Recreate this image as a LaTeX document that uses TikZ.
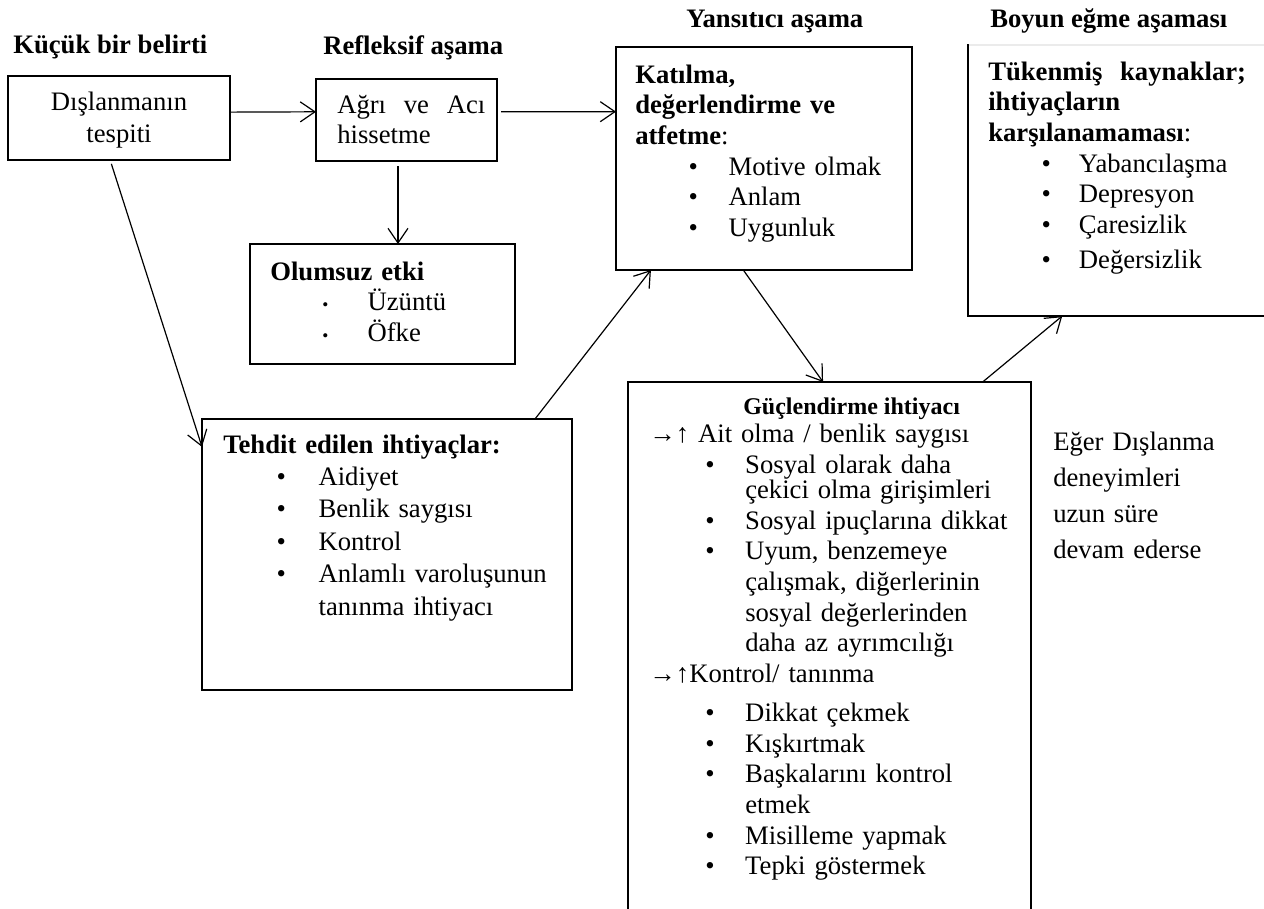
\documentclass[tikz,border=0pt]{standalone}
\usepackage{fontspec}
\setmainfont{Liberation Serif}
\usetikzlibrary{arrows.meta,fit,calc}

\newcommand{\blt}[2]{\hspace*{#1}\makebox[#2][l]{•}}
\newcommand{\sblt}[2]{\hspace*{#1}\makebox[#2][l]{\fontsize{13}{13}\selectfont •}}

\begin{document}
\begin{tikzpicture}[x=0.75pt,y=0.75pt,yscale=-1,xscale=1,
    box/.style={draw, line width=0.9pt, inner sep=0pt, outer sep=0pt},
    txt/.style={inner sep=0pt, align=left, font=\fontsize{20}{23}\selectfont},
    head/.style={txt, font=\fontsize{20}{23}\selectfont\bfseries},
    arr/.style={draw, line width=0.9pt, -{Straight Barb[length=11pt,width=15pt]}}]
\useasboundingbox (0,0) rectangle (1264,908);

%Shape: Rectangle
\node[box, fit={(8,76) (230,160)}] (tespit) {};
%Shape: Rectangle
\node[box, fit={(316,79) (497,161)}] (agri) {};
%Shape: Rectangle
\node[box, fit={(616,47) (912,270)}] (katilma) {};
%Shape: Rectangle
\node[box, fit={(968,45) (1272,316)}] (boyun) {};
\draw[black!8, line width=1.3pt] ([xshift=0.5pt]boyun.north west) -- (boyun.north east);
%Shape: Rectangle
\node[box, fit={(250,244) (515,364)}] (olumsuz) {};
%Shape: Rectangle
\node[box, fit={(202,419) (572,690)}] (tehdit) {};
%Shape: Rectangle
\node[box, fit={(628,382) (1031,925)}] (guclen) {};

% Text Node
\node[head, anchor=base west] (h-kucuk) at (13,53) {Küçük bir belirti};
% Text Node
\node[head, anchor=base west] (h-refleks) at (323,54) {Refleksif aşama};
% Text Node
\node[head, anchor=base west] (h-yansit) at (686,27) {Yansıtıcı aşama};
% Text Node
\node[head, anchor=base west] (h-boyun) at (990,27) {Boyun eğme aşaması};

% Text Node
\node[txt, font=\fontsize{20}{24}\selectfont, text width=150pt, align=center, anchor=base] (t-tespit) at (119,110) {Dışlanmanın\\tespiti};
% Text Node
\node[txt, text width=130pt, anchor=base west] (t-agri) at (337,113) {Ağrı\ \ ve\ \ Acı\\hissetme};
% Text Node
\node[txt, text width=230pt, anchor=base west] (t-katilma) at (635,83) {\textbf{Katılma,}\\
\textbf{değerlendirme ve}\\
\textbf{atfetme}:\\
\blt{40pt}{30pt}Motive olmak\\
\blt{40pt}{30pt}Anlam\\
\blt{40pt}{30pt}Uygunluk};
% Text Node
\node[txt, text width=200pt, anchor=base west] (t-boyun) at (988,80) {\textbf{Tükenmiş\ \ kaynaklar;}\\
\textbf{ihtiyaçların}\\
\textbf{karşılanamaması}:\\
\blt{40pt}{28pt}Yabancılaşma\\
\blt{40pt}{28pt}Depresyon\\
\blt{40pt}{28pt}Çaresizlik\\[3pt]
\blt{40pt}{28pt}Değersizlik};
% Text Node
\node[txt, text width=180pt, anchor=base west] (t-olumsuz) at (270,280) {\textbf{Olumsuz etki}\\
\sblt{39pt}{34pt}Üzüntü\\
\sblt{39pt}{34pt}Öfke};
% Text Node
\node[txt, font=\fontsize{20}{24.3}\selectfont, text width=265pt, anchor=base west] (t-tehdit) at (223,453) {\textbf{Tehdit edilen ihtiyaçlar:}\\
\blt{40pt}{31.5pt}Aidiyet\\
\blt{40pt}{31.5pt}Benlik saygısı\\
\blt{40pt}{31.5pt}Kontrol\\
\blt{40pt}{31.5pt}Anlamlı varoluşunun\\
\hspace*{71.5pt}tanınma ihtiyacı};
% Text Node
\node[txt, font=\fontsize{18}{21}\selectfont\bfseries, anchor=base west] (h-guclen) at (743,414) {Güçlendirme ihtiyacı};
% Text Node
\node[txt, text width=285pt, anchor=base west] (t-guclen) at (649,442) {→↑ Ait olma / benlik saygısı\\[0.8pt]
\blt{42pt}{30pt}Sosyal olarak daha\\[-4.5pt]
\hspace*{72pt}çekici olma girişimleri\\
\blt{42pt}{30pt}Sosyal ipuçlarına dikkat\\
\blt{42pt}{30pt}Uyum, benzemeye\\
\hspace*{72pt}çalışmak, diğerlerinin\\
\hspace*{72pt}sosyal değerlerinden\\
\hspace*{72pt}daha az ayrımcılığı\\
→↑Kontrol/ tanınma\\[6.2pt]
\blt{42pt}{30pt}Dikkat çekmek\\
\blt{42pt}{30pt}Kışkırtmak\\
\blt{42pt}{30pt}Başkalarını kontrol\\
\hspace*{72pt}etmek\\
\blt{42pt}{30pt}Misilleme yapmak\\
\blt{42pt}{30pt}Tepki göstermek};
% Text Node
\node[txt, font=\fontsize{20}{27}\selectfont, text width=160pt, anchor=base west] (t-eger) at (1053,450) {Eğer Dışlanma\\
deneyimleri\\
uzun süre\\
devam ederse};

%Straight Lines
\draw[arr] ($(tespit.north east)!0.43!(tespit.south east)$) -- ($(agri.north west)!0.4!(agri.south west)$);
%Straight Lines
\draw[arr, shorten <=3pt] ($(agri.north east)!0.4!(agri.south east)$) -- ($(katilma.north west)!0.29!(katilma.south west)$);
%Straight Lines
\coordinate (agri-s) at ($(agri.south west)!0.453!(agri.south east)$);
\draw[arr, shorten <=4pt] (agri-s) -- (agri-s |- olumsuz.north);
%Straight Lines
\draw[arr, shorten <=3pt] ($(tespit.south west)!0.46!(tespit.south east)$) -- ($(tehdit.north west)!0.103!(tehdit.south west)$);
%Straight Lines
\draw[arr] ($(tehdit.north west)!0.9!(tehdit.north east)$) -- ($(katilma.south west)!0.118!(katilma.south east)$);
%Straight Lines
\draw[arr] ($(katilma.south west)!0.43!(katilma.south east)$) -- ($(guclen.north west)!0.484!(guclen.north east)$);
%Straight Lines
\draw[arr] ($(guclen.north west)!0.88!(guclen.north east)$) -- ($(boyun.south west)!0.31!(boyun.south east)$);

\end{tikzpicture}
\end{document}
